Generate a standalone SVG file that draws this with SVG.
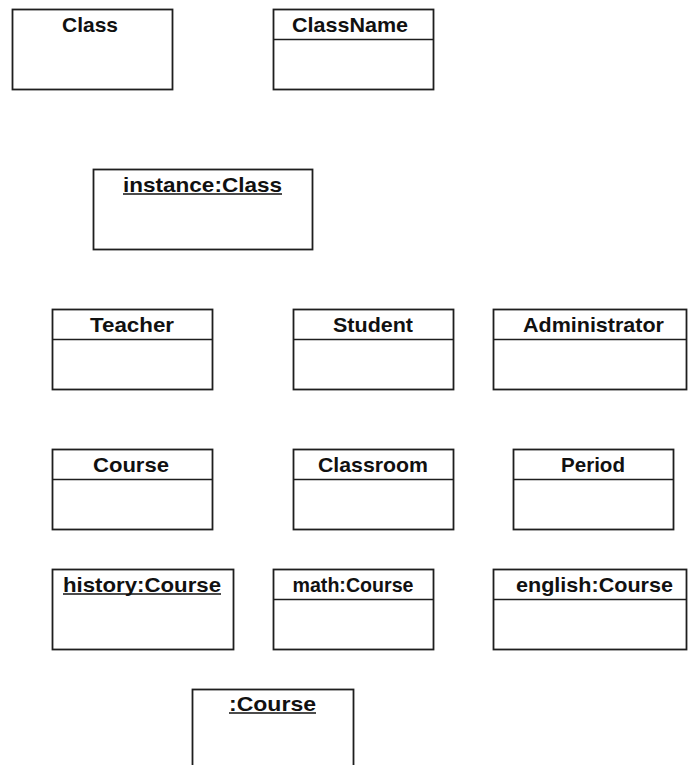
<svg xmlns="http://www.w3.org/2000/svg" width="689" height="765" viewBox="0 0 689 765">
  <style>
    .box { fill: #ffffff; stroke: #1e1e1e; stroke-width: 1.8; }
    .div { stroke: #1e1e1e; stroke-width: 1.6; }
    .ul { stroke: #111111; stroke-width: 1.5; }
    .name { font-family: "Liberation Sans", Arial, sans-serif; font-size: 21px; font-weight: bold; fill: #111111; text-anchor: middle; }
  </style>
  <rect width="689" height="765" fill="#ffffff"/>

  <!-- class notation -->
  <g id="class">
    <rect class="box" x="12.5" y="9.5" width="160" height="80"/>
    <text class="name" x="90" y="32" textLength="56" lengthAdjust="spacingAndGlyphs">Class</text>
  </g>
  <g id="classname">
    <rect class="box" x="273.5" y="9.5" width="160" height="80"/>
    <line class="div" x1="273.5" y1="39.5" x2="433.5" y2="39.5"/>
    <text class="name" x="350" y="32" textLength="116" lengthAdjust="spacingAndGlyphs">ClassName</text>
  </g>

  <!-- object notation -->
  <g id="instance">
    <rect class="box" x="93.5" y="169.5" width="219" height="80"/>
    <text class="name" x="202.5" y="192" textLength="159" lengthAdjust="spacingAndGlyphs">instance:Class</text>
    <line class="ul" x1="123" y1="194" x2="282" y2="194"/>
  </g>

  <!-- people -->
  <g id="teacher">
    <rect class="box" x="52.5" y="309.5" width="160" height="80"/>
    <line class="div" x1="52.5" y1="339.5" x2="212.5" y2="339.5"/>
    <text class="name" x="132" y="332" textLength="84" lengthAdjust="spacingAndGlyphs">Teacher</text>
  </g>
  <g id="student">
    <rect class="box" x="293.5" y="309.5" width="160" height="80"/>
    <line class="div" x1="293.5" y1="339.5" x2="453.5" y2="339.5"/>
    <text class="name" x="373" y="332" textLength="80" lengthAdjust="spacingAndGlyphs">Student</text>
  </g>
  <g id="administrator">
    <rect class="box" x="493.5" y="309.5" width="193" height="80"/>
    <line class="div" x1="493.5" y1="339.5" x2="686.5" y2="339.5"/>
    <text class="name" x="593.5" y="332" textLength="141" lengthAdjust="spacingAndGlyphs">Administrator</text>
  </g>

  <!-- scheduling -->
  <g id="course">
    <rect class="box" x="52.5" y="449.5" width="160" height="80"/>
    <line class="div" x1="52.5" y1="479.5" x2="212.5" y2="479.5"/>
    <text class="name" x="131" y="472" textLength="76" lengthAdjust="spacingAndGlyphs">Course</text>
  </g>
  <g id="classroom">
    <rect class="box" x="293.5" y="449.5" width="160" height="80"/>
    <line class="div" x1="293.5" y1="479.5" x2="453.5" y2="479.5"/>
    <text class="name" x="373" y="472" textLength="110" lengthAdjust="spacingAndGlyphs">Classroom</text>
  </g>
  <g id="period">
    <rect class="box" x="513.5" y="449.5" width="160" height="80"/>
    <line class="div" x1="513.5" y1="479.5" x2="673.5" y2="479.5"/>
    <text class="name" x="593" y="472" textLength="64" lengthAdjust="spacingAndGlyphs">Period</text>
  </g>

  <!-- course instances -->
  <g id="history">
    <rect class="box" x="52.5" y="569.5" width="181" height="80"/>
    <text class="name" x="142" y="592" textLength="158" lengthAdjust="spacingAndGlyphs">history:Course</text>
    <line class="ul" x1="63" y1="594" x2="221" y2="594"/>
  </g>
  <g id="math">
    <rect class="box" x="273.5" y="569.5" width="160" height="80"/>
    <line class="div" x1="273.5" y1="599.5" x2="433.5" y2="599.5"/>
    <text class="name" x="353" y="592" textLength="121" lengthAdjust="spacingAndGlyphs">math:Course</text>
  </g>
  <g id="english">
    <rect class="box" x="493.5" y="569.5" width="193" height="80"/>
    <line class="div" x1="493.5" y1="599.5" x2="686.5" y2="599.5"/>
    <text class="name" x="594.5" y="592" textLength="157" lengthAdjust="spacingAndGlyphs">english:Course</text>
  </g>
  <g id="anonymous-course">
    <rect class="box" x="192.5" y="689.5" width="161" height="90"/>
    <text class="name" x="272.5" y="711" textLength="87" lengthAdjust="spacingAndGlyphs">:Course</text>
    <line class="ul" x1="229" y1="713" x2="316" y2="713"/>
  </g>

  <g id="connectors"/>
</svg>
